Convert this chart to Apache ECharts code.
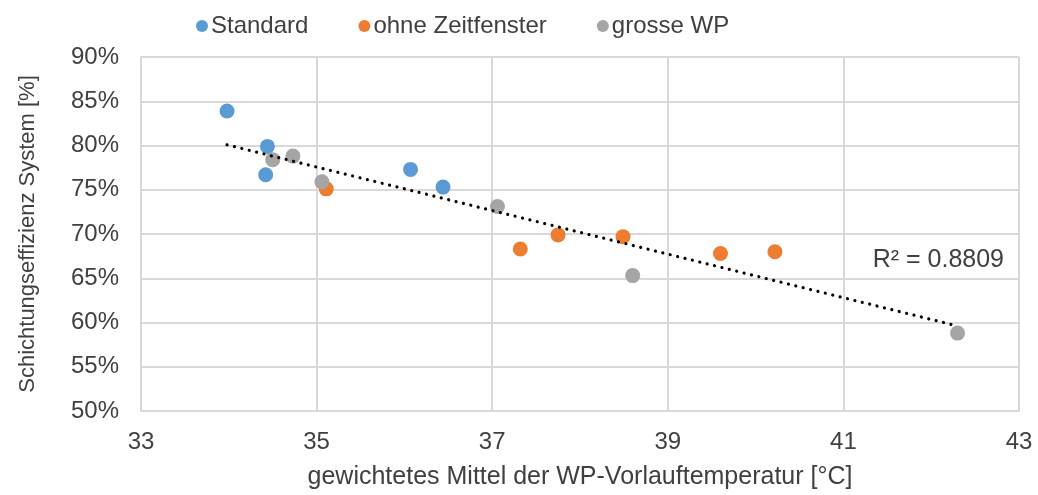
<!DOCTYPE html>
<html>
<head>
<meta charset="utf-8">
<script src="https://cdn.jsdelivr.net/npm/echarts@6/dist/echarts.min.js"></script>
<style>
  html, body { margin: 0; padding: 0; background: #fff; }
  #chart { width: 1038px; height: 495px; }
</style>
</head>
<body>
<div id="chart"></div>
<script>
// Mean supply temperature of the heat pump [°C] and stratification efficiency [%]
const standardX = [33.98, 34.44, 34.42, 36.07, 36.44];
const standardY = [83.9, 79.9, 76.7, 77.3, 75.3];

const ohneZeitfensterX = [35.11, 37.32, 37.75, 38.49, 39.60, 40.22];
const ohneZeitfensterY = [75.1, 68.3, 69.9, 69.7, 67.8, 68.0];

const grosseWpX = [34.50, 34.73, 35.06, 37.06, 38.60, 42.30];
const grosseWpY = [78.4, 78.8, 75.9, 73.1, 65.3, 58.8];

const seriesNames = ['Standard', 'ohne Zeitfenster', 'grosse WP'];
const colors = ['#5b9bd5', '#ed7d31', '#a5a5a5'];

const xTicks = { min: 33, max: 43, step: 2 };
const yTicks = { min: 50, max: 90, step: 5 };
const rSquaredText = 'R² = 0.8809';

const textColor = '#404040';
const fontFamily = '"Liberation Sans", Arial, sans-serif';

function pairs(xs, ys) { return xs.map((x, i) => [x, ys[i]]); }

// Least-squares linear trend over all points
const allX = standardX.concat(ohneZeitfensterX, grosseWpX);
const allY = standardY.concat(ohneZeitfensterY, grosseWpY);
const n = allX.length;
const mx = allX.reduce((a, b) => a + b, 0) / n;
const my = allY.reduce((a, b) => a + b, 0) / n;
let sxy = 0, sxx = 0;
for (let i = 0; i < n; i++) { sxy += (allX[i] - mx) * (allY[i] - my); sxx += (allX[i] - mx) ** 2; }
const slope = sxy / sxx;
const intercept = my - slope * mx;
const xLo = Math.min(...allX), xHi = Math.max(...allX);
const trend = [[xLo, intercept + slope * xLo], [xHi, intercept + slope * xHi]];

const chart = echarts.init(document.getElementById('chart'), null, { renderer: 'canvas' });

const scatter = (name, data, color) => ({
  name, type: 'scatter', data, symbol: 'circle', symbolSize: 15,
  itemStyle: { color, opacity: 1 }, emphasis: { disabled: true }
});

chart.setOption({
  animation: false,
  color: colors,
  textStyle: { fontFamily, color: textColor },
  grid: { left: 141, right: 19, top: 57, bottom: 82 },
  legend: {
    left: 191, top: 9,
    icon: 'circle', itemWidth: 12, itemHeight: 12, itemGap: 50,
    data: seriesNames,
    textStyle: { fontSize: 24, color: textColor, fontFamily, padding: [0, 0, 0, -2] }
  },
  xAxis: {
    type: 'value', min: xTicks.min, max: xTicks.max, interval: xTicks.step,
    name: 'gewichtetes Mittel der WP-Vorlauftemperatur [°C]',
    nameLocation: 'middle', nameGap: 54,
    nameTextStyle: { fontSize: 25, color: textColor, fontFamily },
    axisLine: { show: true, lineStyle: { color: '#d9d9d9', width: 2 } },
    axisTick: { show: false },
    axisLabel: { fontSize: 24, color: textColor, fontFamily, margin: 19 },
    splitLine: { show: true, lineStyle: { color: '#d9d9d9', width: 2 } }
  },
  yAxis: {
    type: 'value', min: yTicks.min, max: yTicks.max, interval: yTicks.step,
    name: 'Schichtungseffizienz System [%]',
    nameLocation: 'middle', nameGap: 102, nameRotate: 90,
    nameTextStyle: { fontSize: 22, color: textColor, fontFamily },
    axisLine: { show: true, lineStyle: { color: '#d9d9d9', width: 2 } },
    axisTick: { show: false },
    axisLabel: { fontSize: 24, color: textColor, fontFamily, margin: 22, formatter: '{value}%' },
    splitLine: { show: true, lineStyle: { color: '#d9d9d9', width: 2 } }
  },
  series: [
    scatter(seriesNames[0], pairs(standardX, standardY), colors[0]),
    scatter(seriesNames[1], pairs(ohneZeitfensterX, ohneZeitfensterY), colors[1]),
    scatter(seriesNames[2], pairs(grosseWpX, grosseWpY), colors[2]),
    {
      name: 'Trend', type: 'line', data: trend, symbol: 'none', z: 5,
      lineStyle: { color: '#000', width: 3.2, type: [0.01, 7.6], cap: 'round' },
      emphasis: { disabled: true }, silent: true
    }
  ],
  graphic: [{
    type: 'text', right: 34, top: 248,
    style: { text: rSquaredText, fontSize: 25, fill: textColor, fontFamily }
  }]
});
</script>
</body>
</html>
